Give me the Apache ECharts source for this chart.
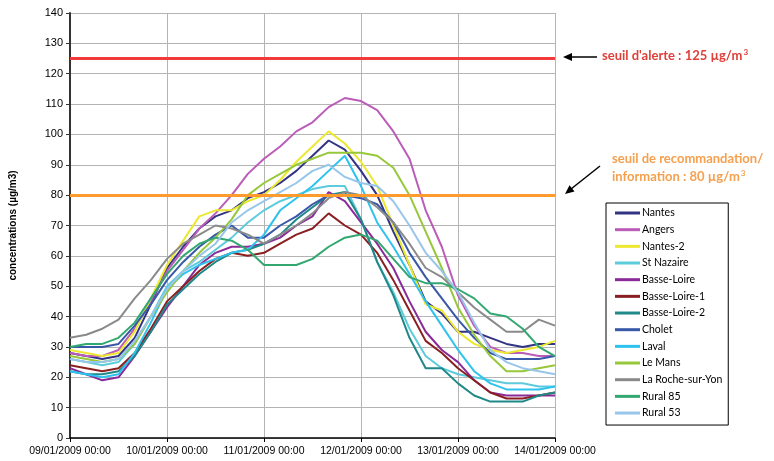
<!DOCTYPE html>
<html>
<head>
<meta charset="utf-8">
<script src="https://cdn.jsdelivr.net/npm/echarts@6/dist/echarts.min.js"></script>
<style>
html,body{margin:0;padding:0;background:#fff;}
#chart{width:774px;height:461px;}
</style>
</head>
<body>
<div id="chart"></div>
<script>
// Hours since 09/01/2009 00:00
const hours = [0,4,8,12,16,20,24,28,32,36,40,44,48,52,56,60,64,68,72,76,80,84,88,92,96,100,104,108,112,116,120];
const xTickLabels = ['09/01/2009 00:00','10/01/2009 00:00','11/01/2009 00:00','12/01/2009 00:00','13/01/2009 00:00','14/01/2009 00:00'];

const nantes      = [28,27,26,27,33,44,56,63,69,73,75,79,81,84,88,93,98,95,88,80,68,57,45,41,35,35,33,31,30,31,31];
const angers      = [28,27,27,29,36,45,55,62,69,74,80,87,92,96,101,104,109,112,111,108,101,92,75,63,47,37,30,28,28,27,27];
const nantes2     = [29,28,27,28,35,46,57,65,73,75,75,78,80,85,91,96,101,97,91,83,70,57,44,42,35,31,29,28,29,30,32];
const stNazaire   = [26,25,24,25,31,40,50,55,58,62,66,71,75,78,80,82,83,83,72,58,48,36,27,23,21,20,19,18,18,17,17];
const basseLoire  = [23,21,19,20,27,35,43,50,57,61,63,63,64,66,70,73,81,78,71,64,56,45,35,29,25,19,15,14,14,14,14];
const basseLoire1 = [24,23,22,23,28,36,45,50,55,59,61,60,61,64,67,69,74,70,67,61,52,42,32,28,23,19,15,13,13,14,15];
const basseLoire2 = [22,21,21,22,27,35,44,49,54,58,61,62,64,67,72,76,80,81,72,58,47,33,23,23,18,14,12,12,12,14,15];
const cholet      = [30,30,30,31,37,44,52,58,63,67,70,66,66,70,73,77,80,80,79,77,71,61,53,46,39,33,28,26,26,26,27];
const laval       = [22,21,20,21,28,38,49,54,57,59,61,62,67,75,79,83,88,93,83,71,63,54,45,37,29,22,18,16,16,16,17];
const leMans      = [27,26,25,26,31,40,48,55,61,66,72,80,84,87,90,92,94,94,94,93,89,80,68,56,43,34,27,22,22,23,24];
const laRoche     = [33,34,36,39,46,52,59,64,67,70,69,67,64,67,70,74,79,81,80,76,71,64,56,53,48,43,39,35,35,39,37];
const rural85     = [30,31,31,33,38,46,54,60,64,66,65,62,57,57,57,59,63,66,67,65,59,53,51,51,49,46,41,40,36,30,27];
const rural53     = [26,25,25,26,32,40,49,55,60,64,71,75,78,81,84,88,90,86,84,83,78,70,61,55,48,38,29,25,23,22,21];

const seriesNames  = ['Nantes','Angers','Nantes-2','St Nazaire','Basse-Loire','Basse-Loire-1','Basse-Loire-2','Cholet','Laval','Le Mans','La Roche-sur-Yon','Rural 85','Rural 53'];
const seriesValues = [nantes,angers,nantes2,stNazaire,basseLoire,basseLoire1,basseLoire2,cholet,laval,leMans,laRoche,rural85,rural53];
const seriesColors = ['#333383','#bb5cb8','#ece830','#5ccbdc','#8a2a98','#8a1f22','#1f8888','#3a58a8','#2ec2ef','#97c83a','#8a8a8a','#32a870','#98c6ea'];

const alertThreshold = 125;
const infoThreshold = 80;

const chart = echarts.init(document.getElementById('chart'), null, {renderer:'canvas'});

const series = seriesNames.map((name, i) => ({
  name: name,
  type: 'line',
  showSymbol: false,
  symbol: 'none',
  data: hours.map((h, j) => [h, seriesValues[i][j]]),
  lineStyle: {width: 2, color: seriesColors[i]},
  itemStyle: {color: seriesColors[i]},
  z: 2
}));

series.push({
  name: 'seuils',
  type: 'line',
  data: [],
  z: 5,
  markLine: {
    silent: true,
    symbol: ['none','none'],
    label: {show: false},
    animation: false,
    data: [
      {yAxis: alertThreshold, lineStyle: {color: '#f23a3a', width: 3, type: 'solid'}},
      {yAxis: infoThreshold, lineStyle: {color: '#ff9a2c', width: 3, type: 'solid'}}
    ]
  }
});

const option = {
  animation: false,
  backgroundColor: '#fff',
  grid: {left: 70, right: 219, top: 13, bottom: 23, containLabel: false},
  xAxis: {
    type: 'value',
    min: 0, max: 120, interval: 24,
    axisLine: {show: true, lineStyle: {color: '#000', width: 1.5}},
    axisTick: {show: true, length: 4, lineStyle: {color: '#000'}},
    splitLine: {show: true, lineStyle: {color: '#b4b4b4', width: 1}},
    axisLabel: {
      margin: 8,
      color: '#000',
      fontFamily: 'Liberation Sans, Arial, sans-serif',
      fontSize: 10.5,
      formatter: v => xTickLabels[Math.round(v / 24)]
    }
  },
  yAxis: {
    type: 'value',
    min: 0, max: 140, interval: 10,
    name: 'concentrations (µg/m3)',
    nameLocation: 'middle',
    nameGap: 52,
    nameTextStyle: {color: '#000', fontWeight: 'bold', fontSize: 10, fontFamily: 'Liberation Sans, Arial, sans-serif'},
    axisLine: {show: true, lineStyle: {color: '#333', width: 2}},
    axisTick: {show: true, length: 4, lineStyle: {color: '#333'}},
    splitLine: {show: true, lineStyle: {color: '#b4b4b4', width: 1}},
    axisLabel: {
      margin: 7,
      color: '#000',
      fontFamily: 'Liberation Sans, Arial, sans-serif',
      fontSize: 11
    }
  },
  legend: {
    data: seriesNames,
    orient: 'vertical',
    left: 606,
    top: 203,
    padding: [3, 6, 5, 9],
    itemWidth: 25,
    itemHeight: 3,
    itemGap: 2.67,
    icon: 'rect',
    borderColor: '#000',
    borderWidth: 1,
    backgroundColor: '#fff',
    textStyle: {fontFamily: 'Lato, sans-serif', fontSize: 10.5, color: '#000', lineHeight: 14, padding: [0,0,0,-3]}
  },
  graphic: [
    {type: 'line', shape: {x1: 597, y1: 57, x2: 570, y2: 57}, style: {stroke: '#000', lineWidth: 1.5}, z: 10},
    {type: 'polygon', shape: {points: [[563,57],[572,53],[572,61]]}, style: {fill: '#000'}, z: 10},
    {type: 'line', shape: {x1: 600, y1: 166, x2: 571, y2: 189}, style: {stroke: '#000', lineWidth: 1.5}, z: 10},
    {type: 'polygon', shape: {points: [[565,194],[574.5,191.5],[569.5,185.3]]}, style: {fill: '#000'}, z: 10},
    {type: 'text', left: 602, top: 48, z: 10, style: {
      text: "{a|seuil d'alerte : 125 µg/m}{s|3}",
      rich: {
        a: {fill: '#e0403a', fontFamily: 'Lato, sans-serif', fontSize: 13, fontWeight: 'bold'},
        s: {fill: '#e0403a', fontFamily: 'Lato, sans-serif', fontSize: 8, fontWeight: 'bold', verticalAlign: 'top', padding: [0,0,8,1]}
      }
    }},
    {type: 'text', left: 612, top: 152, z: 10, style: {
      text: 'seuil de recommandation/',
      fill: '#f5a04e', fontFamily: 'Lato, sans-serif', fontSize: 13, fontWeight: 'bold'
    }},
    {type: 'text', left: 612, top: 169, z: 10, style: {
      text: '{a|information : 80 µg/m}{s|3}',
      rich: {
        a: {fill: '#f5a04e', fontFamily: 'Lato, sans-serif', fontSize: 13, fontWeight: 'bold'},
        s: {fill: '#f5a04e', fontFamily: 'Lato, sans-serif', fontSize: 8, fontWeight: 'bold', verticalAlign: 'top', padding: [0,0,8,1]}
      }
    }}
  ],
  series: series
};

chart.setOption(option);
</script>
</body>
</html>
